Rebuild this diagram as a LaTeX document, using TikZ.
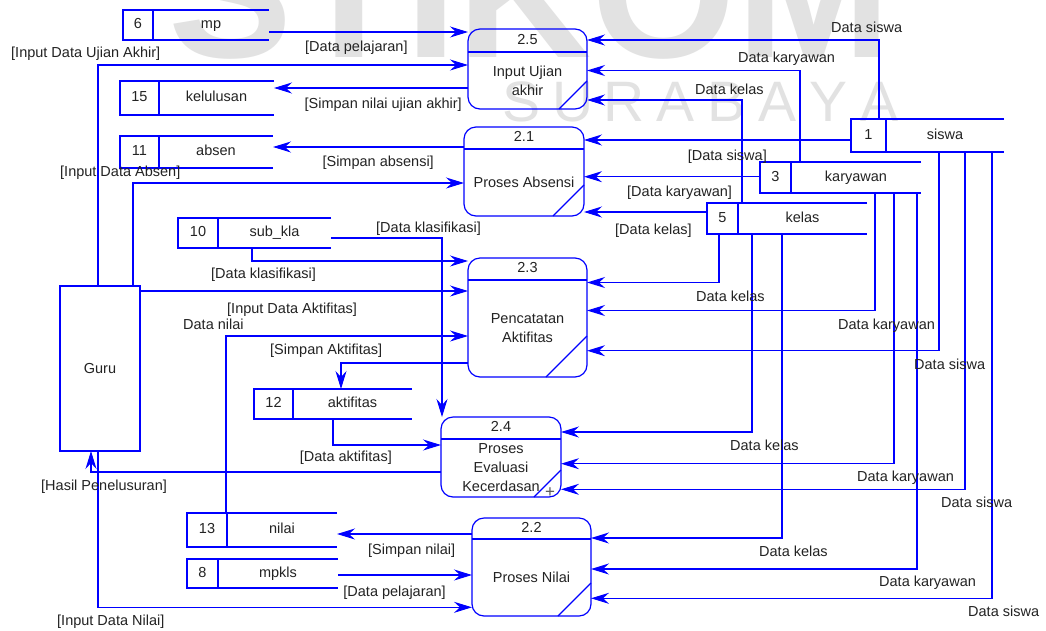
\documentclass[tikz,border=0pt]{standalone}
\usepackage{fontspec}
\setmainfont{Liberation Sans}
\usetikzlibrary{arrows.meta}

\definecolor{dfdblue}{RGB}{0,0,255}
\definecolor{labelink}{RGB}{35,35,35}
\definecolor{wmark}{RGB}{226,226,226}

\tikzset{
  every node/.style={font=\fontsize{14.5pt}{19pt}\selectfont, text=labelink},
  flow/.style={draw=dfdblue, line width=1.1pt, -{Stealth[length=18pt,width=11pt,inset=6pt]}},
  procbox/.style={draw=dfdblue, line width=1.2pt, rounded corners=12pt, inner sep=0pt, outer sep=0pt},
  procline/.style={draw=dfdblue, line width=1.1pt},
  storeline/.style={draw=dfdblue, line width=1.3pt},
  celltext/.style={inner sep=0pt, text height=10.5pt, text depth=3pt},
  lab/.style={anchor=base west, inner sep=0pt},
  labr/.style={anchor=base east, inner sep=0pt},
}

% process: name, left, top, right, bottom, header y, id, text, slash size
\newcommand{\dfdproc}[9]{%
  \node[procbox, minimum width={(#4-#2)*1pt}, minimum height={(#5-#3)*1pt}] (#1) at ({(#2+#4)/2},{(#3+#5)/2}) {};
  \draw[procline] (#1.west |- 0,#6) -- (#1.east |- 0,#6);
  \node[celltext] (#1-id) at ({(#2+#4)/2},{(#3+#6)/2}) {#7};
  \node[align=center, inner sep=0pt] (#1-txt) at ({(#2+#4)/2},{(#6+#5)/2}) {#8};
  \draw[procline] ([xshift=-#9pt]#1.south east) -- ([yshift=#9pt]#1.south east);
}

% data store: name, left, divider, right, top, bottom, number, label
\newcommand{\dfdstore}[8]{%
  \node[inner sep=0pt, outer sep=0pt, minimum width={(#4-#2)*1pt}, minimum height={(#6-#5)*1pt}] (#1) at ({(#2+#4)/2},{(#5+#6)/2}) {};
  \draw[storeline] (#1.north east) -- (#1.north west) -- (#1.south west) -- (#1.south east);
  \draw[storeline] (#3,#5) -- (#3,#6);
  \node[celltext] (#1-no) at ({(#2+#3)/2},{(#5+#6)/2}) {#7};
  \node[celltext] (#1-name) at ({(#3+#4)/2},{(#5+#6)/2}) {#8};
}

\begin{document}
\begin{tikzpicture}[x=1pt,y=-1pt]
\useasboundingbox[fill=white] (0,0) rectangle (1046,630);

% faint background lettering
\begin{scope}
  \clip (0,0) rectangle (1046,630);
  \node[anchor=base west, inner sep=0pt, text=wmark, font=\fontsize{186pt}{186pt}\selectfont\bfseries] (wmbig) at (168,57) {STIKOM};
  \foreach \c [count=\i from 0] in {S,U,R,A,B,A,Y,A}
    \node[anchor=base, inner sep=0pt, text=wmark, font=\fontsize{57pt}{57pt}\selectfont] (wm\i) at ({522+51*\i},121) {\c};
\end{scope}

% external entity
\node[draw=dfdblue, line width=1.3pt, minimum width=80pt, minimum height=165pt, inner sep=0pt, outer sep=0pt] (guru) at (100,368.5) {Guru};

% processes
\dfdproc{p25}{468}{29}{587}{109}{52}{2.5}{Input Ujian\\akhir}{28}
\dfdproc{p21}{464}{127}{584}{216}{149}{2.1}{Proses Absensi}{31}
\dfdproc{p23}{468}{258}{587}{377}{280}{2.3}{Pencatatan\\Aktifitas}{41}
\dfdproc{p24}{441}{417}{561}{497}{439}{2.4}{Proses\\Evaluasi\\Kecerdasan}{27}
\dfdproc{p22}{472}{518}{591}{616}{539}{2.2}{Proses Nilai}{33}

% data stores
\dfdstore{s6}{123}{153}{269}{10}{40}{6}{mp}
\dfdstore{s15}{120}{159}{274}{81}{115}{15}{kelulusan}
\dfdstore{s11}{120}{159}{273}{136}{168}{11}{absen}
\dfdstore{s10}{178}{218}{331}{218}{248}{10}{sub\_kla}
\dfdstore{s12}{254}{293}{412}{389}{419}{12}{aktifitas}
\dfdstore{s13}{187}{227}{337}{513}{547}{13}{nilai}
\dfdstore{s8}{187}{218}{338}{559}{588}{8}{mpkls}
\dfdstore{s1}{851}{886}{1004}{119}{152}{1}{siswa}
\dfdstore{s3}{760}{791}{921}{162}{193}{3}{karyawan}
\dfdstore{s5}{707}{738}{867}{203}{234}{5}{kelas}

% flows into / out of 2.5
\draw[flow] (s6.east |- 0,32) -- (p25.west |- 0,32);
\draw[flow] (98,0 |- guru.north) -- (98,65) -- (p25.west |- 0,65);
\draw[flow] (p25.west |- 0,88) -- (s15.east |- 0,88);
\draw[flow] (879,0 |- s1.north) -- (879,40) -- (p25.east |- 0,40);
\draw[flow] (800,0 |- s3.north) -- (800,70.5) -- (p25.east |- 0,70.5);
\draw[flow] (742,0 |- s5.north) -- (742,100) -- (p25.east |- 0,100);

% flows into / out of 2.1
\draw[flow] (p21.west |- 0,147) -- (s11.east |- 0,147);
\draw[flow] (133,0 |- guru.north) -- (133,183) -- (p21.west |- 0,183);
\draw[flow] (s1.west |- 0,140) -- (p21.east |- 0,140);
\draw[flow] (s3.west |- 0,176.7) -- (p21.east |- 0,176.7);
\draw[flow] (s5.west |- 0,212) -- (p21.east |- 0,212);

% flows into / out of 2.3
\draw[flow] (252,0 |- s10.south) -- (252,261) -- (p23.west |- 0,261);
\draw[flow] (guru.east |- 0,291) -- (p23.west |- 0,291);
\draw[flow] (226,0 |- s13.north) -- (226,336) -- (p23.west |- 0,336);
\draw[flow] (p23.west |- 0,363) -- (341,363) -- (341,0 |- s12.north);
\draw[flow] (719,0 |- s5.south) -- (719,282.5) -- (p23.east |- 0,282.5);
\draw[flow] (875,0 |- s3.south) -- (875,310.5) -- (p23.east |- 0,310.5);
\draw[flow] (939,0 |- s1.south) -- (939,350.7) -- (p23.east |- 0,350.7);

% flows into / out of 2.4
\draw[flow] (s10.east |- 0,238) -- (442,238) -- (442,0 |- p24.north);
\draw[flow] (333,0 |- s12.south) -- (333,445) -- (p24.west |- 0,445);
\draw[flow] (p24.west |- 0,472) -- (91,472) -- (91,0 |- guru.south);
\draw[flow] (752,0 |- s5.south) -- (752,432) -- (p24.east |- 0,432);
\draw[flow] (894,0 |- s3.south) -- (894,463.7) -- (p24.east |- 0,463.7);
\draw[flow] (965,0 |- s1.south) -- (965,489.3) -- (p24.east |- 0,489.3);

% flows into / out of 2.2
\draw[flow] (p22.west |- 0,534) -- (s13.east |- 0,534);
\draw[flow] (s8.east |- 0,575) -- (p22.west |- 0,575);
\draw[flow] (98,0 |- guru.south) -- (98,607.3) -- (p22.west |- 0,607.3);
\draw[flow] (782,0 |- s5.south) -- (782,538) -- (p22.east |- 0,538);
\draw[flow] (917,0 |- s3.south) -- (917,569) -- (p22.east |- 0,569);
\draw[flow] (992,0 |- s1.south) -- (992,598.3) -- (p22.east |- 0,598.3);

% flow labels
\node[lab]  (l1)  at (11,57)      {[Input Data Ujian Akhir]};
\node[lab]  (l2)  at (305,51.5)   {[Data pelajaran]};
\node[labr] (l3)  at (462,108)    {[Simpan nilai ujian akhir]};
\node[labr] (l4)  at (434,166.5)  {[Simpan absensi]};
\node[lab]  (l5)  at (60,176)     {[Input Data Absen]};
\node[lab]  (l6)  at (831,32)     {Data siswa};
\node[lab]  (l7)  at (738,62.7)   {Data karyawan};
\node[lab]  (l8)  at (695,94)     {Data kelas};
\node[labr] (l9)  at (767,160.5)  {[Data siswa]};
\node[lab]  (l10) at (627,196.5)  {[Data karyawan]};
\node[lab]  (l11) at (615,234)    {[Data kelas]};
\node[lab]  (l12) at (211,278.5)  {[Data klasifikasi]};
\node[lab]  (l13) at (376,232)    {[Data klasifikasi]};
\node[lab]  (l14) at (227,313)    {[Input Data Aktifitas]};
\node[lab]  (l15) at (183,329)    {Data nilai};
\node[lab]  (l16) at (270,354.5)  {[Simpan Aktifitas]};
\node[lab]  (l17) at (696,301.5)  {Data kelas};
\node[lab]  (l18) at (838,329)    {Data karyawan};
\node[lab]  (l19) at (914,369)    {Data siswa};
\node[labr] (l20) at (392,461)    {[Data aktifitas]};
\node[lab]  (l21) at (41,490)     {[Hasil Penelusuran]};
\node[lab]  (l22) at (730,450.5)  {Data kelas};
\node[lab]  (l23) at (857,481.5)  {Data karyawan};
\node[lab]  (l24) at (941,507)    {Data siswa};
\node[lab]  (l25) at (368,554.5)  {[Simpan nilai]};
\node[labr] (l26) at (446,596)    {[Data pelajaran]};
\node[lab]  (l27) at (57,625)     {[Input Data Nilai]};
\node[lab]  (l28) at (759,556.5)  {Data kelas};
\node[lab]  (l29) at (879,586.5)  {Data karyawan};
\node[lab]  (l30) at (968,616.5)  {Data siswa};

% pointer mark
\node[inner sep=0pt, text=black!65, font=\fontsize{17pt}{17pt}\selectfont] (cursor) at (550,493) {+};
\end{tikzpicture}
\end{document}
